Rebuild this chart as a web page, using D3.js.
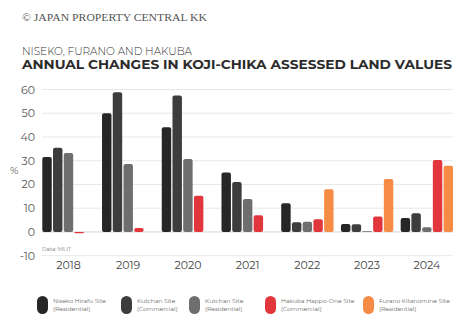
<!DOCTYPE html>
<html><head><meta charset="utf-8">
<script src="https://cdn.jsdelivr.net/npm/d3@7"></script>
<style>body{margin:0;background:#fff}svg{display:block}</style>
</head><body>
<svg id="c" width="474" height="325"></svg>
<script>
const years = ["2018","2019","2020","2021","2022","2023","2024"];
const seriesNames = [
  ["Niseko Hirafu Site","(Residential)"],
  ["Kutchan Site","(Commercial)"],
  ["Kutchan Site","(Residential)"],
  ["Hakuba Happo-One Site","(Commercial)"],
  ["Furano Kitanomine Site","(Residential)"]
];
const colors = ["#262626","#3d3d3d","#6e6e6e","#e0363c","#f68b45"];
const nisekoHirafuRes = [31.6, 50.0, 44.1, 25.0, 12.1, 3.4, 5.9];
const kutchanCom      = [35.5, 58.8, 57.5, 21.0, 4.1, 3.2, 7.9];
const kutchanRes      = [33.3, 28.6, 30.7, 13.9, 4.3, 0.3, 2.0];
const hakubaCom       = [-0.5, 1.7, 15.3, 7.0, 5.3, 6.5, 30.3];
const furanoRes       = [null, null, null, null, 18.0, 22.3, 27.9];
const series = [nisekoHirafuRes, kutchanCom, kutchanRes, hakubaCom, furanoRes];
const yTicks = [-10,0,10,20,30,40,50,60];

const svg = d3.select("#c");
const font = "Montserrat, 'Open Sans', Lato, sans-serif";

const y = d3.scaleLinear().domain([-10,60]).range([255.7,89.5]);
const x0 = d3.scaleBand().domain(years).range([42.3,453]).paddingInner(0.124).paddingOuter(0);
const x1 = d3.scaleBand().domain(d3.range(5)).range([0,x0.bandwidth()]).paddingInner(0.12).paddingOuter(0);

// gridlines
svg.append("g").selectAll("line").data(yTicks).join("line")
  .attr("x1",42).attr("x2",453).attr("y1",d=>y(d)).attr("y2",d=>y(d))
  .attr("stroke", d=> d===0 ? "#d4d4d4" : "#e8e8e8").attr("stroke-width",1);

// y axis labels
svg.append("g").selectAll("text").data(yTicks).join("text")
  .attr("x",35).attr("y",d=>y(d)+4).attr("text-anchor","end")
  .attr("font-family",font).attr("font-size",11).attr("fill","#555").text(d=>d);
svg.append("text").attr("x",10).attr("y",174).attr("font-family",font)
  .attr("font-size",10).attr("fill","#555").text("%");

// bars
const g = svg.append("g");
years.forEach((yr,i)=>{
  series.forEach((s,j)=>{
    const v = s[i];
    if(v===null) return;
    const top = y(Math.max(v,0)), bot = y(Math.min(v,0));
    const h = Math.max(bot-top, 0.8);
    g.append("rect")
      .attr("x", x0(yr)+x1(j)).attr("y", top)
      .attr("width", x1.bandwidth()).attr("height", h)
      .attr("rx", Math.min(2, h/2)).attr("fill", colors[j]);
  });
});

// x labels
svg.append("g").selectAll("text").data(years).join("text")
  .attr("x",d=>x0(d)+x0.bandwidth()/2).attr("y",269).attr("text-anchor","middle")
  .attr("font-family",font).attr("font-size",11).attr("fill","#444").text(d=>d);

svg.append("text").attr("x",42).attr("y",251).attr("font-family",font)
  .attr("font-size",5.5).attr("fill","#777").text("Data: MLIT");

// titles
function fit(sel, w){ const l = sel.node().getComputedTextLength(); if(l>0){ sel.attr("textLength",w).attr("lengthAdjust","spacingAndGlyphs"); } }
const t0 = svg.append("text").attr("x",22).attr("y",21).attr("font-family","'Liberation Serif', serif")
  .attr("font-size",9.5).attr("fill","#555").text("© JAPAN PROPERTY CENTRAL KK");
fit(t0,185);
const t1 = svg.append("text").attr("x",22).attr("y",55).attr("font-family",font)
  .attr("font-size",10.5).attr("font-weight",300).attr("fill","#333").text("NISEKO, FURANO AND HAKUBA");
fit(t1,170);
const t2 = svg.append("text").attr("x",22).attr("y",69).attr("font-family",font)
  .attr("font-size",12.5).attr("font-weight",700).attr("fill","#2b2b2b").text("ANNUAL CHANGES IN KOJI-CHIKA ASSESSED LAND VALUES");
fit(t2,430);

// legend
const legX = [37,121,189,265,363];
seriesNames.forEach((n,j)=>{
  svg.append("rect").attr("x",legX[j]).attr("y",296).attr("width",11).attr("height",18)
    .attr("rx",5.5).attr("fill",colors[j]);
  const t = svg.append("text").attr("font-family",font).attr("font-size",6).attr("fill","#666");
  t.append("tspan").attr("x",legX[j]+16).attr("y",302.5).text(n[0]);
  t.append("tspan").attr("x",legX[j]+16).attr("y",310.5).text(n[1]);
});
</script>
</body></html>
